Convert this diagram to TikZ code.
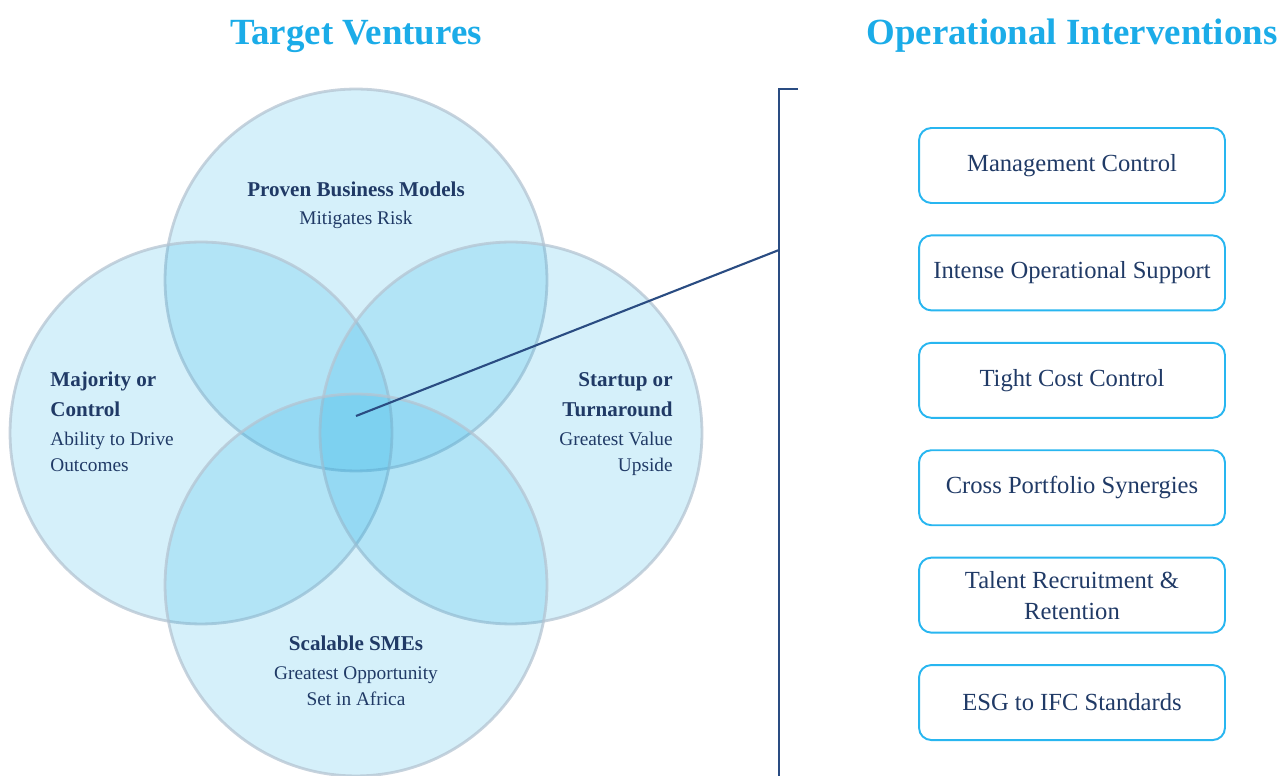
\documentclass[tikz,border=0pt]{standalone}
\usepackage{fontspec}
\setmainfont{Liberation Serif}
\usetikzlibrary{positioning}

\definecolor{skyfill}{RGB}{8,167,226}
\definecolor{ringgray}{RGB}{180,196,210}
\definecolor{navy}{RGB}{32,58,102}
\definecolor{titleblue}{RGB}{27,172,232}
\definecolor{boxline}{RGB}{40,182,240}
\definecolor{bracket}{RGB}{42,76,130}

\tikzset{
  venn/.style={circle, minimum size=7.64cm, inner sep=0pt, fill=skyfill, fill opacity=0.17,
    draw=ringgray, draw opacity=0.75, line width=1.6pt},
  headline/.style={font=\bfseries\fontsize{21}{24}\selectfont, text=titleblue, inner sep=0pt},
  vennhead/.style={font=\bfseries\fontsize{12}{17.6}\selectfont, text=navy, inner sep=0pt},
  vennsub/.style={font=\fontsize{11}{15.3}\selectfont, text=navy, inner sep=0pt},
  opbox/.style={rectangle, rounded corners=7pt, draw=boxline, line width=1.1pt,
    minimum width=6.12cm, minimum height=1.5cm, align=center, text=navy,
    font=\fontsize{14}{17.6}\selectfont},
  bracketline/.style={draw=bracket, line width=1.4pt},
  link/.style={draw=bracket, line width=1.2pt}
}

\begin{document}
\begin{tikzpicture}[x=0.02cm, y=-0.02cm, node distance=0.61cm]
\useasboundingbox (0,0) rectangle (1279,776);

% titles
\node[headline, anchor=base] (tv) at (356,45) {Target Ventures};
\node[headline, anchor=base] (oi) at (1072,45) {Operational Interventions};

% four circles
\node[venn] (ctop) at (356,280) {};
\node[venn] (cleft) at (201,433) {};
\node[venn] (cright) at (511,433) {};
\node[venn] (cbot) at (356,585) {};

% circle labels (base = last line)
\node[vennhead, anchor=base] (proven) at (356,197) {Proven Business Models};
\node[vennsub, anchor=base] (provensub) at (356,225) {Mitigates Risk};
\node[vennhead, anchor=base west, align=left] (major) at (50,417) {Majority or\\Control};
\node[vennsub, anchor=base west, align=left] (majorsub) at (50,472) {Ability to Drive\\Outcomes};
\node[vennhead, anchor=base east, align=right] (start) at (673,417) {Startup or\\Turnaround};
\node[vennsub, anchor=base east, align=right] (startsub) at (673,472) {Greatest Value\\Upside};
\node[vennhead, anchor=base] (sme) at (356,651) {Scalable SMEs};
\node[vennsub, anchor=base, align=center] (smesub) at (356,706) {Greatest Opportunity\\Set in Africa};

% bracket and pointer
\coordinate (hub) at (356,416);
\coordinate (hook) at (779,250);
\coordinate (btop) at (779,89);
\coordinate (btick) at (798,89);
\coordinate (bbot) at (779,780);
\draw[bracketline] (btick) -- (btop) -- (bbot);
\draw[link] (hub) -- (hook);

% interventions
\node[opbox] (b1) at (1072,165.5) {Management Control};
\node[opbox, below=of b1] (b2) {Intense Operational Support};
\node[opbox, below=of b2] (b3) {Tight Cost Control};
\node[opbox, below=of b3] (b4) {Cross Portfolio Synergies};
\node[opbox, below=of b4] (b5) {Talent Recruitment \&\\Retention};
\node[opbox, below=of b5] (b6) {ESG to IFC Standards};
\end{tikzpicture}
\end{document}
